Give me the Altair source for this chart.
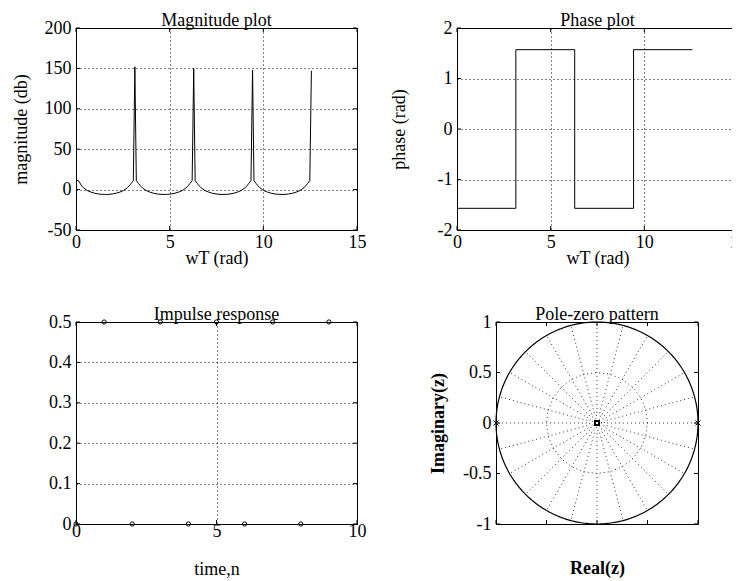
import altair as alt
import pandas as pd
import numpy as np

FONT = "Liberation Serif"
FS = 18
W1, H1 = 281, 202
W4, H4 = 202, 202

# ---- Magnitude plot ----
mag_w = [0.0, 0.15, 0.3, 0.4, 0.6, 0.8, 1.0, 1.2, 1.4, 1.57, 1.74, 1.94, 2.14, 2.34, 2.54, 2.74, 2.84, 2.94, 3.06, 3.1416,
         3.22, 3.34, 3.44, 3.54, 3.74, 3.94, 4.14, 4.34, 4.54, 4.71, 4.88, 5.08, 5.28, 5.48, 5.68, 5.88, 5.98, 6.08, 6.20, 6.2832,
         6.36, 6.48, 6.58, 6.68, 6.88, 7.08, 7.28, 7.48, 7.68, 7.85, 8.02, 8.22, 8.42, 8.62, 8.82, 9.02, 9.12, 9.22, 9.34, 9.4248,
         9.50, 9.62, 9.72, 9.82, 10.02, 10.22, 10.42, 10.62, 10.82, 11.0, 11.16, 11.36, 11.56, 11.76, 11.96, 12.16, 12.26, 12.36, 12.48, 12.5664]
mag_db = [12, 10.5, 4.6, 2.2, -1.1, -3.1, -4.5, -5.4, -5.9, -6.0, -5.9, -5.4, -4.5, -3.1, -1.1, 2.2, 4.6, 7.5, 11, 152,
          11, 7.5, 4.6, 2.2, -1.1, -3.1, -4.5, -5.4, -5.9, -6.0, -5.9, -5.4, -4.5, -3.1, -1.1, 2.2, 4.6, 7.5, 11, 150,
          11, 7.5, 4.6, 2.2, -1.1, -3.1, -4.5, -5.4, -5.9, -6.0, -5.9, -5.4, -4.5, -3.1, -1.1, 2.2, 4.6, 7.5, 11, 148,
          11, 7.5, 4.6, 2.2, -1.1, -3.1, -4.5, -5.4, -5.9, -6.0, -5.9, -5.4, -4.5, -3.1, -1.1, 2.2, 4.6, 7.5, 11, 147]

# ---- Phase plot ----
phase_w = [0.0, 3.1416, 3.1416, 6.2832, 6.2832, 9.4248, 9.4248, 12.5664]
phase_rad = [-1.5708, -1.5708, 1.5708, 1.5708, -1.5708, -1.5708, 1.5708, 1.5708]

# ---- Impulse response ----
imp_n = [0, 1, 2, 3, 4, 5, 6, 7, 8, 9]
imp_h = [0, 0.5, 0, 0.5, 0, 0.5, 0, 0.5, 0, 0.5]

# ---- Pole-zero ----
pole_re = [-1, 1]
pole_im = [0, 0]
zero_re = [0]
zero_im = [0]

# tick label values
mag_xticks = [0, 5, 10, 15]
mag_yticks = [-50, 0, 50, 100, 150, 200]
ph_yticks = [-2, -1, 0, 1, 2]
imp_xticks = [0, 5, 10]
imp_yticks = [0, 0.1, 0.2, 0.3, 0.4, 0.5]
pz_ticks = [-1, -0.5, 0, 0.5, 1]

LBL = "'' + datum.value"


def sc(dom):
    return alt.Scale(domain=dom, nice=False, zero=False)


def frame_ticks(xvals, yvals, xs, ys, xax, yax, W, H, L=4):
    layers = []
    dx = pd.DataFrame({"t": xvals})
    dy = pd.DataFrame({"t": yvals})
    for y0, y1 in [(H, H - L), (0, L)]:
        layers.append(alt.Chart(dx).mark_rule(color="black", strokeWidth=1).encode(
            x=alt.X("t:Q", scale=xs, axis=xax), y=alt.value(y0), y2=alt.value(y1)))
    for x0, x1 in [(0, L), (W, W - L)]:
        layers.append(alt.Chart(dy).mark_rule(color="black", strokeWidth=1).encode(
            y=alt.Y("t:Q", scale=ys, axis=yax), x=alt.value(x0), x2=alt.value(x1)))
    return layers


XLP, XTP = 3, -2      # x label / title padding (top row)
YLP = 5               # y label padding

# Panel 1
xs1, ys1 = sc([0, 15]), sc([-50, 200])
xa1 = alt.Axis(values=mag_xticks, title="wT (rad)", grid=True, labelExpr=LBL, labelPadding=XLP, titlePadding=XTP)
ya1 = alt.Axis(values=mag_yticks, title="magnitude (db)", grid=True, labelExpr=LBL, labelPadding=YLP, titlePadding=14)
df_mag = pd.DataFrame({"w": mag_w, "db": mag_db, "i": range(len(mag_w))})
p1_line = alt.Chart(df_mag).mark_line(color="black", strokeWidth=1).encode(
    x=alt.X("w:Q", scale=xs1, axis=xa1), y=alt.Y("db:Q", scale=ys1, axis=ya1), order="i:Q")
p1 = alt.layer(p1_line, *frame_ticks(mag_xticks, mag_yticks, xs1, ys1, xa1, ya1, W1, H1)).properties(
    width=W1, height=H1, title="Magnitude plot")

# Panel 2
xs2, ys2 = sc([0, 15]), sc([-2, 2])
xa2 = alt.Axis(values=mag_xticks, title="wT (rad)", grid=True, labelExpr=LBL, labelPadding=XLP, titlePadding=XTP)
ya2 = alt.Axis(values=ph_yticks, title="phase (rad)", grid=True, labelExpr=LBL, labelPadding=YLP, titlePadding=29)
df_ph = pd.DataFrame({"w": phase_w, "p": phase_rad, "i": range(len(phase_w))})
p2_line = alt.Chart(df_ph).mark_line(color="black", strokeWidth=1).encode(
    x=alt.X("w:Q", scale=xs2, axis=xa2), y=alt.Y("p:Q", scale=ys2, axis=ya2), order="i:Q")
p2 = alt.layer(p2_line, *frame_ticks(mag_xticks, ph_yticks, xs2, ys2, xa2, ya2, W1, H1)).properties(
    width=W1, height=H1, title="Phase plot")

# Panel 3
xs3, ys3 = sc([0, 10]), sc([0, 0.5])
xa3 = alt.Axis(values=imp_xticks, title="time,n", grid=True, labelExpr=LBL, labelPadding=-2, titlePadding=20)
ya3 = alt.Axis(values=imp_yticks, title=None, grid=True, labelExpr=LBL, labelPadding=YLP)
df_imp = pd.DataFrame({"n": imp_n, "h": imp_h})
p3_pts = alt.Chart(df_imp).mark_point(shape="circle", size=18, filled=False, color="black", strokeWidth=1, opacity=1).encode(
    x=alt.X("n:Q", scale=xs3, axis=xa3), y=alt.Y("h:Q", scale=ys3, axis=ya3))
p3 = alt.layer(p3_pts, *frame_ticks(imp_xticks, imp_yticks, xs3, ys3, xa3, ya3, W1, H1)).properties(
    width=W1, height=H1, title="Impulse response")

# Panel 4: z-plane grid (geometry) + poles/zeros
ang = np.deg2rad(np.arange(0, 361, 1))
df_circ = pd.DataFrame({"re": np.cos(ang), "im": np.sin(ang), "k": range(len(ang))})
rad_rows = []
for g, a in enumerate(np.deg2rad(np.arange(0, 360, 15))):
    for k, r in enumerate([0.1, 1.0]):
        rad_rows.append({"re": r * np.cos(a), "im": r * np.sin(a), "g": f"r{g}", "k": k})
for g, r in enumerate([0.5, 0.045, 0.075]):
    for k, a in enumerate(np.deg2rad(np.arange(0, 361, 15))):
        rad_rows.append({"re": r * np.cos(a), "im": r * np.sin(a), "g": f"c{g}", "k": k})
df_grid = pd.DataFrame(rad_rows)

xs4, ys4 = sc([-1, 1]), sc([-1, 1])
xa4 = alt.Axis(values=pz_ticks, labels=False, title="Real(z)", grid=False, titleFontWeight="bold", titlePadding=35)
ya4 = alt.Axis(values=pz_ticks, title="Imaginary(z)", grid=False, titleFontWeight="bold", labelExpr=LBL,
               labelPadding=YLP, titlePadding=15)

p4_grid = alt.Chart(df_grid).mark_line(color="#333333", strokeWidth=1, strokeDash=[1, 3]).encode(
    x=alt.X("re:Q", scale=xs4, axis=xa4), y=alt.Y("im:Q", scale=ys4, axis=ya4), detail="g:N", order="k:Q")
p4_circ = alt.Chart(df_circ).mark_line(color="black", strokeWidth=1.2).encode(
    x=alt.X("re:Q", scale=xs4, axis=xa4), y=alt.Y("im:Q", scale=ys4, axis=ya4), order="k:Q")
p4_poles = alt.Chart(pd.DataFrame({"re": pole_re, "im": pole_im})).mark_point(
    shape="M-1,-1L1,1M-1,1L1,-1", size=25, filled=False, color="black", strokeWidth=1, opacity=1).encode(
    x=alt.X("re:Q", scale=xs4, axis=xa4), y=alt.Y("im:Q", scale=ys4, axis=ya4))
p4_zeros = alt.Chart(pd.DataFrame({"re": zero_re, "im": zero_im})).mark_point(
    shape="square", size=16, filled=False, color="black", strokeWidth=2, opacity=1).encode(
    x=alt.X("re:Q", scale=xs4, axis=xa4), y=alt.Y("im:Q", scale=ys4, axis=ya4))
p4 = alt.layer(p4_grid, p4_circ, p4_poles, p4_zeros,
               *frame_ticks(pz_ticks, pz_ticks, xs4, ys4, xa4, ya4, W4, H4)).properties(
    width=W4, height=H4, title="Pole-zero pattern")

row1 = alt.hconcat(p1, p2, spacing=100, bounds="flush")
row2 = alt.hconcat(p3, p4, spacing=139, bounds="flush")
# nested rows have no own height under flush bounds, so spacing = panel height + gap
chart = alt.vconcat(row1, row2, spacing=H1 + 92, bounds="flush").properties(
    padding={"left": 3, "top": 3, "right": -16, "bottom": 2}
).configure_view(stroke="black", strokeWidth=1).configure_axis(
    labelFont=FONT, titleFont=FONT, labelFontSize=FS, titleFontSize=FS,
    labelColor="black", titleColor="black", titleFontWeight="normal",
    domain=False, ticks=False, gridColor="black", gridDash=[1, 3], gridOpacity=1, gridWidth=1,
    labelFlush=False, labelOverlap=False
).configure_title(font=FONT, fontSize=FS, fontWeight="normal", offset=-11, color="black", frame="group")

chart.save("out.html", embed_options={"renderer": "svg", "actions": False})
